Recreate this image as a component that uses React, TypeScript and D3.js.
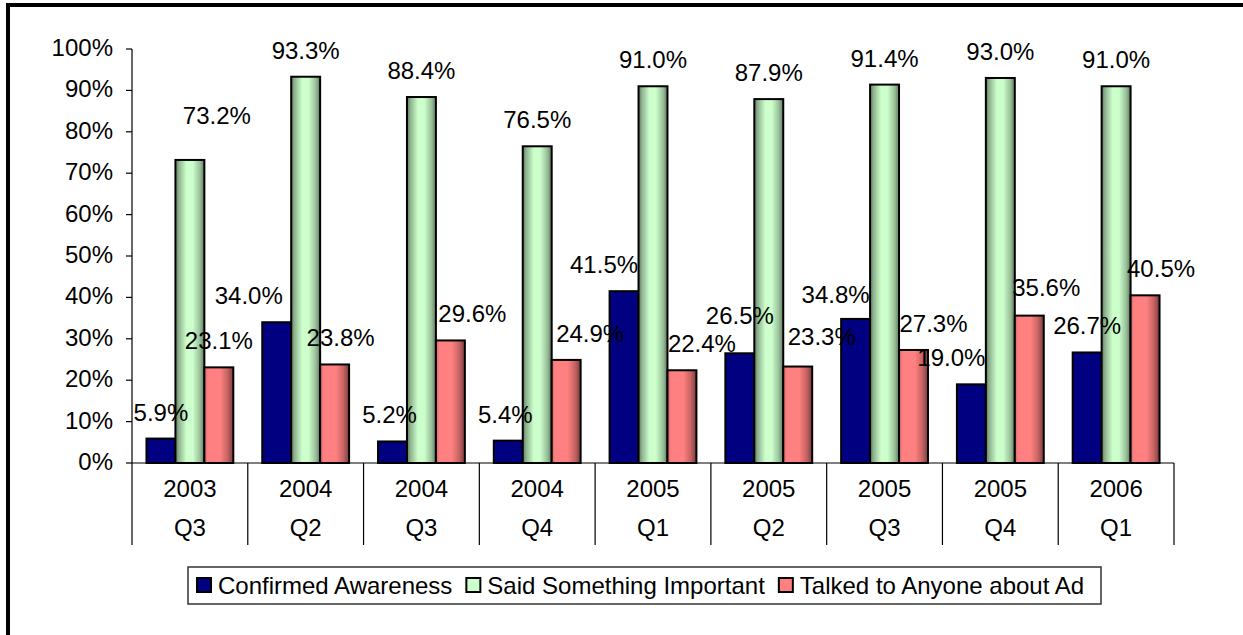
import React, { useEffect, useRef } from "react";
import * as d3 from "d3";

const years = ["2003", "2004", "2004", "2004", "2005", "2005", "2005", "2005", "2006"];
const quarters = ["Q3", "Q2", "Q3", "Q4", "Q1", "Q2", "Q3", "Q4", "Q1"];
const confirmedAwareness = [5.9, 34.0, 5.2, 5.4, 41.5, 26.5, 34.8, 19.0, 26.7];
const saidSomethingImportant = [73.2, 93.3, 88.4, 76.5, 91.0, 87.9, 91.4, 93.0, 91.0];
const talkedToAnyone = [23.1, 23.8, 29.6, 24.9, 22.4, 23.3, 27.3, 35.6, 40.5];
const seriesNames = ["Confirmed Awareness", "Said Something Important", "Talked to Anyone about Ad"];
const yTicks = [0, 10, 20, 30, 40, 50, 60, 70, 80, 90, 100];

// label nudges (layout only), relative to default "outside end" position
const blueLabelDx = [0, -28, -3, -3, -20, 0, -20, -20, 0];
const blueLabelDy = [0, 0, 0, 0, 0, -11, 2, 0, 0];
const greenLabelDx = [27, 0, 0, 0, 0, 0, 0, 0, 0];
const greenLabelDy = [-18, 0, 0, 0, 0, 0, 0, 0, 0];
const redLabelDx = [0, 6, 22, 24, 20, 24, 20, 17, 16];
const redLabelDy = [0, 0, 0, 0, 0, -4, 0, -2, 0];

const W = 1243;
const H = 635;
const FONT = "'Liberation Sans', Arial, Helvetica, sans-serif";
const FS = 24;

export default function App() {
  const ref = useRef<SVGSVGElement | null>(null);

  useEffect(() => {
    const svg = d3.select(ref.current);
    svg.selectAll("*").remove();

    const defs = svg.append("defs");
    const gGreen = defs.append("linearGradient").attr("id", "gGreen").attr("x1", 0).attr("x2", 1).attr("y1", 0).attr("y2", 0);
    [
      [0, "#5f7a5f"],
      [0.12, "#8fb38f"],
      [0.38, "#ccffcc"],
      [0.6, "#ccffcc"],
      [0.85, "#99bf99"],
      [1, "#5f7a5f"],
    ].forEach(([o, c]) => gGreen.append("stop").attr("offset", o as number).attr("stop-color", c as string));
    const gRed = defs.append("linearGradient").attr("id", "gRed").attr("x1", 0).attr("x2", 1).attr("y1", 0).attr("y2", 0);
    [
      [0, "#d06868"],
      [0.12, "#ff8080"],
      [0.55, "#ff8080"],
      [0.8, "#c86464"],
      [1, "#7a3d3d"],
    ].forEach(([o, c]) => gRed.append("stop").attr("offset", o as number).attr("stop-color", c as string));

    // outer border (cropped on right/bottom)
    svg.append("rect").attr("x", 8).attr("y", 5).attr("width", W + 20).attr("height", H + 20)
      .attr("fill", "white").attr("stroke", "black").attr("stroke-width", 4);

    const x0 = 132, x1 = 1174, yTop = 49, yBot = 463;
    const x = d3.scaleBand<number>().domain(d3.range(years.length)).range([x0, x1]).paddingInner(0).paddingOuter(0);
    const xs = d3.scaleBand<number>().domain([0, 1, 2]).range([0, x.bandwidth()]).paddingInner(0).paddingOuter(0.5);
    const y = d3.scaleLinear().domain([0, 100]).range([yBot, yTop]);

    const series = [confirmedAwareness, saidSomethingImportant, talkedToAnyone];
    const fills = ["#000080", "url(#gGreen)", "url(#gRed)"];
    const swatch = ["#000080", "#ccffcc", "#ff8080"];
    const dxs = [blueLabelDx, greenLabelDx, redLabelDx];
    const dys = [blueLabelDy, greenLabelDy, redLabelDy];

    // y axis
    const ya = svg.append("g");
    ya.append("line").attr("x1", x0).attr("x2", x0).attr("y1", y(100)).attr("y2", y(0)).attr("stroke", "black").attr("stroke-width", 1.2);
    yTicks.forEach((t) => {
      ya.append("line").attr("x1", x0 - 6).attr("x2", x0).attr("y1", y(t)).attr("y2", y(t)).attr("stroke", "black").attr("stroke-width", 1.2);
      ya.append("text").attr("x", x0 - 19).attr("y", y(t) + 7).attr("text-anchor", "end")
        .attr("font-family", FONT).attr("font-size", FS).text(`${t}%`);
    });

    const drawBars = (si: number, g: d3.Selection<SVGGElement, unknown, null, undefined>) => {
      g.selectAll("rect").data(series[si]).join("rect")
        .attr("x", (_d, i) => (x(i) as number) + (xs(si) as number))
        .attr("y", (d) => y(d))
        .attr("width", xs.bandwidth())
        .attr("height", (d) => y(0) - y(d))
        .attr("fill", fills[si])
        .attr("stroke", "black").attr("stroke-width", 2);
    };
    const drawLabels = (si: number, g: d3.Selection<SVGGElement, unknown, null, undefined>) => {
      g.selectAll("text").data(series[si]).join("text")
        .attr("x", (_d, i) => (x(i) as number) + (xs(si) as number) + xs.bandwidth() / 2 + dxs[si][i])
        .attr("y", (d, i) => y(d) - 18 + dys[si][i])
        .attr("text-anchor", "middle")
        .attr("font-family", FONT).attr("font-size", FS)
        .text((d) => `${d.toFixed(1)}%`);
    };

    drawBars(0, svg.append("g"));
    drawBars(1, svg.append("g"));
    drawBars(2, svg.append("g"));
    drawLabels(0, svg.append("g"));
    drawLabels(1, svg.append("g"));
    drawLabels(2, svg.append("g"));

    // x axis
    const xa = svg.append("g");
    xa.append("line").attr("x1", x0).attr("x2", x1).attr("y1", yBot).attr("y2", yBot).attr("stroke", "black").attr("stroke-width", 1.2);
    d3.range(years.length + 1).forEach((i) => {
      const xx = i < years.length ? (x(i) as number) : x1;
      xa.append("line").attr("x1", xx).attr("x2", xx).attr("y1", yBot).attr("y2", 545).attr("stroke", "black").attr("stroke-width", 1.2);
    });
    years.forEach((yr, i) => {
      const cx = (x(i) as number) + x.bandwidth() / 2;
      xa.append("text").attr("x", cx).attr("y", 497).attr("text-anchor", "middle").attr("font-family", FONT).attr("font-size", FS).text(yr);
      xa.append("text").attr("x", cx).attr("y", 536).attr("text-anchor", "middle").attr("font-family", FONT).attr("font-size", FS).text(quarters[i]);
    });

    // legend
    const lg = svg.append("g");
    const box = lg.append("rect").attr("y", 567).attr("height", 37).attr("fill", "white").attr("stroke", "#333").attr("stroke-width", 1.5);
    const items = lg.append("g");
    let cur = 0;
    seriesNames.forEach((name, i) => {
      items.append("rect").attr("x", cur).attr("y", 578).attr("width", 14).attr("height", 14)
        .attr("fill", swatch[i]).attr("stroke", "black").attr("stroke-width", 2);
      const t = items.append("text").attr("x", cur + 21).attr("y", 594).attr("font-family", FONT).attr("font-size", FS).text(name);
      const w = (t.node() as SVGTextElement).getComputedTextLength();
      cur += 21 + w + (i < seriesNames.length - 1 ? 14 : 0);
    });
    const total = cur;
    const startX = 197;
    items.attr("transform", `translate(${startX},0)`);
    box.attr("x", startX - 9).attr("width", Math.max(total + 20, 913));
  }, []);

  return (
    <svg ref={ref} width={W} height={H} style={{ position: "absolute", left: 0, top: 0, background: "white" }} />
  );
}
